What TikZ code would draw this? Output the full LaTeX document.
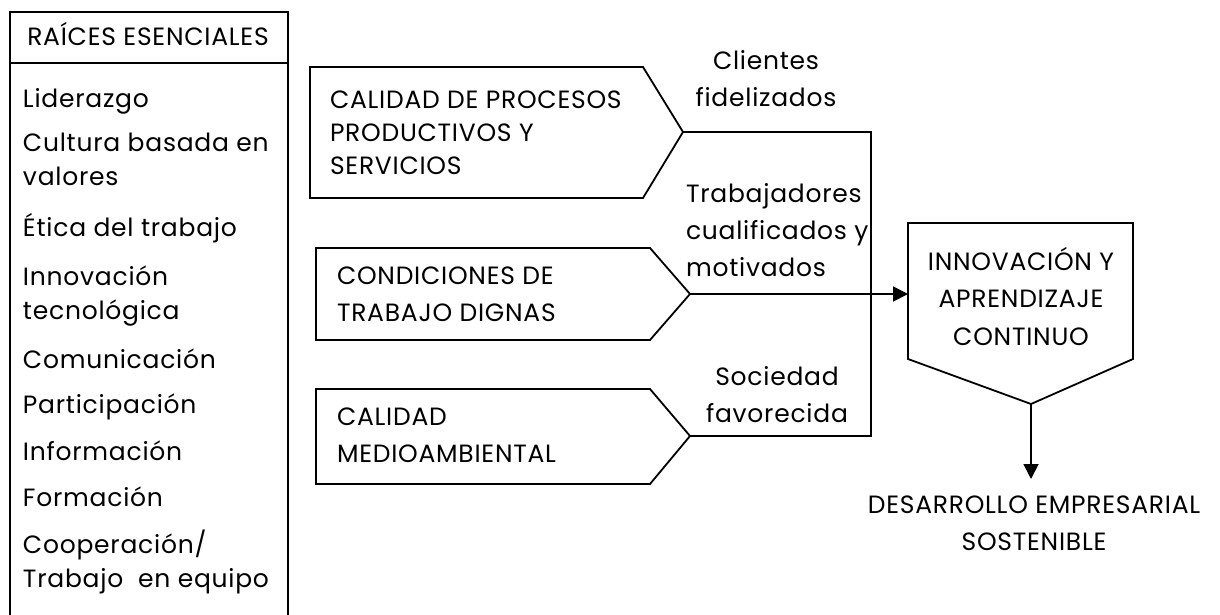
\documentclass[tikz,border=0pt]{standalone}
\usepackage{fontspec}
\setmainfont{Poppins}[LetterSpace=3]
\usetikzlibrary{arrows.meta}
\begin{document}
\begin{tikzpicture}[x=1pt,y=-1pt,
  ln/.style={line width=1.8pt},
  tx/.style={inner sep=0pt,outer sep=0pt,align=left,font=\fontsize{25}{#1}\selectfont},
  tx/.default=34,
  cx/.style={inner sep=0pt,outer sep=0pt,align=center,font=\fontsize{25}{#1}\selectfont},
  cx/.default=37,
  arr/.style={ln,-{Triangle[length=15pt,width=15pt]}}]
\useasboundingbox (0,0) rectangle (1220,615);
% left column
\coordinate (lt) at (10,12);
\coordinate (rt) at (288,12);
\coordinate (lb) at (10,615);
\coordinate (rb) at (288,615);
\coordinate (hl) at (10,63);
\coordinate (hr) at (288,63);
\draw[ln] (lb) -- (lt) -- (rt) -- (rb);
\draw[ln] (hl) -- (hr);
\node[tx,anchor=base] (head) at (148,46) {RAÍCES ESENCIALES};
\node[tx,anchor=base west] (i1) at (23,108) {Liderazgo};
\node[tx,anchor=base west] (i2) at (23,185) {Cultura basada en\\valores};
\node[tx,anchor=base west] (i3) at (23,236) {Ética del trabajo};
\node[tx,anchor=base west] (i4) at (23,319) {Innovación\\tecnológica};
\node[tx,anchor=base west] (i5) at (23,368) {Comunicación};
\node[tx,anchor=base west] (i6) at (23,413) {Participación};
\node[tx,anchor=base west] (i7) at (23,460) {Información};
\node[tx,anchor=base west] (i8) at (23,506) {Formación};
\node[tx,anchor=base west] (i9) at (23,587) {Cooperación/\\Trabajo\ \ en equipo};
% pentagon 1
\draw[ln] (310,67) -- (643,67) -- (683,132) -- (643,198) -- (310,198) -- cycle;
\coordinate (p1) at (683,132);
\node[tx=33,anchor=base west] (t1) at (330,174) {CALIDAD DE PROCESOS\\PRODUCTIVOS Y\\SERVICIOS};
% pentagon 2
\draw[ln] (316,248) -- (650,248) -- (690,294) -- (650,340) -- (316,340) -- cycle;
\coordinate (p2) at (690,294);
\node[tx=37,anchor=base west] (t2) at (337,321) {CONDICIONES DE\\TRABAJO DIGNAS};
% pentagon 3
\draw[ln] (316,389) -- (650,389) -- (690,436) -- (650,484) -- (316,484) -- cycle;
\coordinate (p3) at (690,436);
\node[tx=37,anchor=base west] (t3) at (337,462) {CALIDAD\\MEDIOAMBIENTAL};
% labels
\node[cx=37,anchor=base] (c1) at (766,107) {Clientes\\fidelizados};
\node[tx=37,anchor=base west] (c2) at (686,276) {Trabajadores\\cualificados y\\motivados};
\node[cx=37,anchor=base] (c3) at (777,422) {Sociedad\\favorecida};
% connectors
\coordinate (v1) at (871,132);
\coordinate (v3) at (871,436);
\draw[ln] (p1) -- (v1) -- (v3) -- (p3);
% innovation box
\draw[ln] (908,223) -- (1133,223) -- (1133,359) -- (1031,404) -- (908,359) -- cycle;
\coordinate (inl) at (908,294);
\coordinate (inb) at (1031,404);
\node[cx=37.5,anchor=base] (t4) at (1021,345) {INNOVACIÓN Y\\APRENDIZAJE\\CONTINUO};
\draw[arr] (p2) -- (inl);
\node[cx=37,anchor=base] (t5) at (1034,550) {DESARROLLO EMPRESARIAL\\SOSTENIBLE};
\coordinate (dt) at (1031,479);
\draw[arr] (inb) -- (dt);
\end{tikzpicture}
\end{document}
